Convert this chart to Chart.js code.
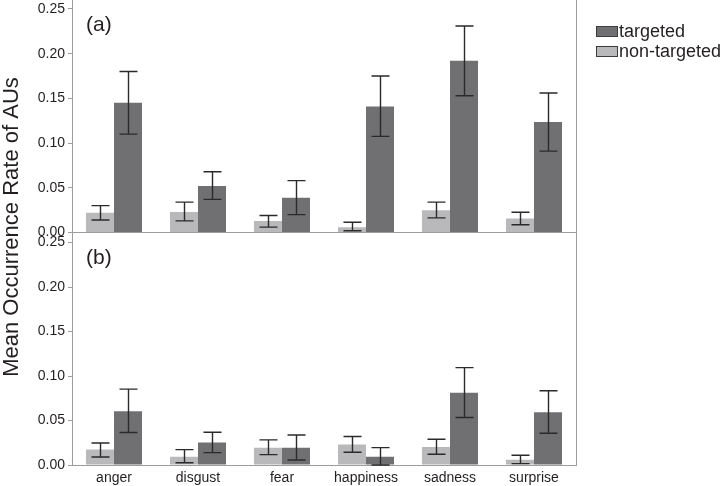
<!DOCTYPE html>
<html>
<head>
<meta charset="utf-8">
<title>Mean Occurrence Rate of AUs</title>
<script src="https://cdn.jsdelivr.net/npm/chart.js@4.4.1/dist/chart.umd.min.js"></script>
<style>
  html, body { margin: 0; padding: 0; background: #fff; }
  #wrap { width: 725px; height: 486px; position: relative; }
</style>
</head>
<body>
<div id="wrap"><canvas id="au-chart"></canvas></div>
<script>
var categories = ['anger', 'disgust', 'fear', 'happiness', 'sadness', 'surprise'];
var yTicks = [0, 0.05, 0.10, 0.15, 0.20, 0.25];

// panel (a)
var aTargeted     = [0.145, 0.052, 0.039, 0.141, 0.192, 0.1235];
var aTargetedLow  = [0.110, 0.037, 0.020, 0.1075, 0.153, 0.091];
var aTargetedHigh = [0.180, 0.068, 0.058, 0.175, 0.231, 0.156];
var aNon          = [0.022, 0.023, 0.013, 0.006, 0.025, 0.0156];
var aNonLow       = [0.014, 0.013, 0.006, 0.002, 0.0164, 0.0086];
var aNonHigh      = [0.030, 0.034, 0.019, 0.0115, 0.034, 0.0227];

// panel (b)
var bTargeted     = [0.0605, 0.0252, 0.0195, 0.0094, 0.0812, 0.0594];
var bTargetedLow  = [0.0365, 0.0139, 0.0056, 0.0, 0.0534, 0.0357];
var bTargetedHigh = [0.0853, 0.0368, 0.0338, 0.0195, 0.1094, 0.0835];
var bNon          = [0.0173, 0.0094, 0.0195, 0.0229, 0.0203, 0.006];
var bNonLow       = [0.009, 0.0026, 0.0117, 0.0143, 0.012, 0.0015];
var bNonHigh      = [0.0248, 0.0173, 0.0282, 0.032, 0.029, 0.0109];

var FONT = "'Liberation Sans', Arial, Helvetica, sans-serif";
var DARK = '#707073';
var LIGHT = '#b9b9bb';
var AXIS = '#9d9d9d';
var TEXT = '#231f20';

function panelAxis(max) {
  return {
    type: 'linear',
    position: 'left',
    stack: 'panels',
    stackWeight: 1,
    stacked: false,
    min: 0,
    max: max,
    afterFit: function(scale) {
      scale.width = 72;
      scale.paddingTop = 0;
      scale.paddingBottom = 0;
    },
    afterBuildTicks: function(scale) {
      scale.ticks = yTicks.map(function(v) { return {value: v}; });
    },
    ticks: {
      color: TEXT,
      padding: 3,
      font: {family: FONT, size: 14},
      callback: function(v) { return Number(v).toFixed(2); }
    },
    grid: {
      drawOnChartArea: true,
      color: function(ctx) { return ctx.tick && ctx.tick.value === 0 ? AXIS : 'rgba(0,0,0,0)'; },
      tickColor: AXIS,
      tickLength: 4,
      lineWidth: 1
    },
    border: {display: true, color: AXIS, width: 1}
  };
}

var errorBars = {
  id: 'errorBars',
  afterDatasetsDraw: function(chart) {
    var ctx = chart.ctx;
    ctx.save();
    ctx.strokeStyle = '#2a2a2a';
    ctx.lineWidth = 1.4;
    chart.data.datasets.forEach(function(ds, i) {
      var meta = chart.getDatasetMeta(i);
      var yScale = chart.scales[meta.yAxisID];
      meta.data.forEach(function(bar, j) {
        var x = Math.round(bar.x) + 0.5;
        var yl = yScale.getPixelForValue(ds.errLow[j]);
        var yh = yScale.getPixelForValue(ds.errHigh[j]);
        ctx.beginPath();
        ctx.moveTo(x, yl); ctx.lineTo(x, yh);
        ctx.moveTo(x - 9, yl); ctx.lineTo(x + 9, yl);
        ctx.moveTo(x - 9, yh); ctx.lineTo(x + 9, yh);
        ctx.stroke();
      });
    });
    ctx.restore();
  }
};

var decorations = {
  id: 'decorations',
  afterDraw: function(chart) {
    var ctx = chart.ctx;
    var area = chart.chartArea;
    ctx.save();
    // right frame line
    ctx.strokeStyle = AXIS;
    ctx.lineWidth = 1;
    ctx.beginPath();
    ctx.moveTo(Math.round(area.right) + 0.5, area.top);
    ctx.lineTo(Math.round(area.right) + 0.5, area.bottom);
    ctx.stroke();

    ctx.fillStyle = TEXT;
    // panel labels
    ctx.font = '21px ' + FONT;
    ctx.textBaseline = 'middle';
    ctx.textAlign = 'left';
    ctx.fillText('(a)', 86, chart.scales.ya.top + 25);
    ctx.fillText('(b)', 86, chart.scales.yb.top + 26);

    // y title spanning both panels
    ctx.save();
    ctx.translate(12, 227);
    ctx.rotate(-Math.PI / 2);
    ctx.textAlign = 'center';
    ctx.font = '22px ' + FONT;
    ctx.fillText('Mean Occurrence Rate of AUs', 0, 0);
    ctx.restore();

    // legend
    var items = [
      {label: 'targeted', color: DARK, y: 31},
      {label: 'non-targeted', color: LIGHT, y: 51}
    ];
    ctx.font = '18px ' + FONT;
    ctx.textAlign = 'left';
    items.forEach(function(it) {
      ctx.fillStyle = it.color;
      ctx.fillRect(596, it.y - 5, 22, 11);
      ctx.strokeStyle = '#3c3c3c';
      ctx.strokeRect(596.5, it.y - 4.5, 21, 10);
      ctx.fillStyle = TEXT;
      ctx.fillText(it.label, 619, it.y + 1);
    });
    ctx.restore();
  }
};

var chart = new Chart(document.getElementById('au-chart'), {
  type: 'bar',
  data: {
    labels: categories,
    datasets: [
      {label: 'non-targeted', data: aNon, errLow: aNonLow, errHigh: aNonHigh,
       yAxisID: 'ya', stack: 'non', backgroundColor: LIGHT},
      {label: 'targeted', data: aTargeted, errLow: aTargetedLow, errHigh: aTargetedHigh,
       yAxisID: 'ya', stack: 'tgt', backgroundColor: DARK},
      {label: 'non-targeted', data: bNon, errLow: bNonLow, errHigh: bNonHigh,
       yAxisID: 'yb', stack: 'non', backgroundColor: LIGHT},
      {label: 'targeted', data: bTargeted, errLow: bTargetedLow, errHigh: bTargetedHigh,
       yAxisID: 'yb', stack: 'tgt', backgroundColor: DARK}
    ]
  },
  options: {
    responsive: true,
    maintainAspectRatio: false,
    animation: false,
    categoryPercentage: 0.667,
    barPercentage: 1.0,
    layout: {padding: {left: 0, right: 149, top: 0, bottom: 0}},
    plugins: {
      legend: {display: false},
      tooltip: {enabled: false}
    },
    scales: {
      x: {
        type: 'category',
        afterFit: function(scale) { scale.height = 21; },
        grid: {display: false, drawTicks: false, tickLength: 0},
        border: {display: true, color: AXIS, width: 1},
        ticks: {color: TEXT, padding: 5, font: {family: FONT, size: 14}}
      },
      // bottom panel is listed first: Chart.js stacks left axes bottom-up
      yb: panelAxis(0.2613),
      ya: panelAxis(0.26)
    }
  },
  plugins: [errorBars, decorations]
});
</script>
</body>
</html>
